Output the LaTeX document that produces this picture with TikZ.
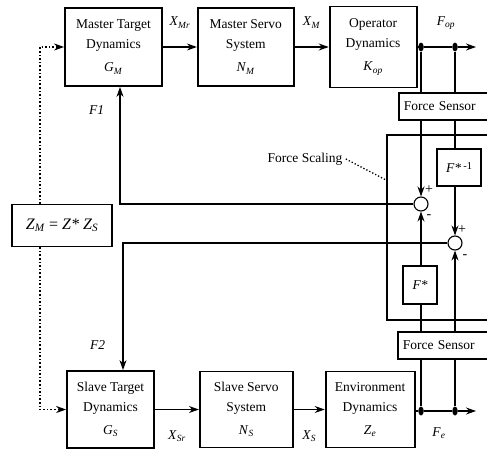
\documentclass[tikz,border=0pt]{standalone}
\usepackage{fontspec}
\setmainfont{Liberation Serif}
\usetikzlibrary{arrows.meta, positioning, shapes.geometric}

\newcommand{\vsub}[2]{\textit{#1}\textsubscript{\textit{#2}}}

\begin{document}
\begin{tikzpicture}[x=1pt, y=-1pt, >={Stealth[length=10pt, width=7pt]},
    font=\fontsize{13.5}{20}\selectfont,
    blk/.style={draw, line width=1.8pt, align=center, minimum height=78pt, inner sep=1pt},
    gain/.style={draw, line width=1.5pt, inner sep=1pt},
    sum/.style={draw, line width=1.1pt, circle, minimum size=14pt, inner sep=0pt, fill=white},
    jdot/.style={fill, ellipse, minimum width=5.5pt, minimum height=9pt, inner sep=0pt},
    sig/.style={line width=1.1pt},
    sgn/.style={inner sep=0pt, font=\fontsize{14}{14}\selectfont}]
    \useasboundingbox (0,0) rectangle (487,450);
    \clip (0,0) rectangle (487,450);

    % master side
    \node[blk, minimum width=97pt] (gm) at (113.5,47) {Master Target\\Dynamics\\[3pt]\vsub{G}{M}};
    \node[blk, minimum width=96pt, right=34pt of gm] (nm) {Master Servo\\System\\[3pt]\vsub{N}{M}};
    \node[blk, minimum width=87pt, minimum height=81pt, right=34pt of nm] (kop) {Operator\\Dynamics\\[3pt]\vsub{K}{op}};

    % slave side
    \node[blk, minimum width=87pt, minimum height=77pt] (gs) at (110.5,409.5) {Slave Target\\Dynamics\\[3pt]\vsub{G}{S}};
    \node[blk, minimum width=93pt, minimum height=76pt, right=44pt of gs] (ns) {Slave Servo\\System\\[3pt]\vsub{N}{S}};
    \node[blk, minimum width=89pt, minimum height=76pt, right=31pt of ns] (ze) {Environment\\Dynamics\\[3pt]\vsub{Z}{e}};

    % force scaling block
    \node[draw, line width=1.8pt, anchor=north west, minimum width=110pt, minimum height=185pt] (fsbox) at (386,134) {};
    \node (fslab) at (305,159) {Force Scaling};
    \draw[dotted, line width=1.3pt] (fslab.east) -- ([yshift=-46pt]fsbox.north west);

    \node[gain, anchor=west, text width=86pt, align=left, inner xsep=5pt, minimum height=27pt] (fsa) at (398,106.5) {Force Sensor};
    \node[gain, anchor=west, text width=86pt, align=left, inner xsep=5pt, minimum height=27pt] (fsb) at (397,345.5) {Force Sensor};
    \node[gain, minimum width=44pt, minimum height=37pt] (finv) at (459,167.5) {\textit{F*}\,\raisebox{2.5pt}{\fontsize{10.5}{10.5}\selectfont -1}};
    \node[gain, minimum width=34pt, minimum height=38pt] (fstar) at (420,285) {\textit{F*}};
    \node[sum] (s1) at (421,204) {};
    \node[sum] (s2) at (455,243) {};
    \node[sgn] at ([shift={(8,-14)}]s1) {+};
    \node[sgn] at ([shift={(8,13)}]s1) {-};
    \node[sgn] at ([shift={(7,-13)}]s2) {+};
    \node[sgn] at ([shift={(10,14)}]s2) {-};

    % pick-off points
    \node[jdot] (d1) at (421,47) {};
    \node[jdot] (d2) at (455,47) {};
    \coordinate (fopend) at (476,47);
    \node[jdot] (e1) at (421,411) {};
    \node[jdot] (e2) at (455,411) {};
    \coordinate (feend) at (476,411);

    % impedance relation
    \node[draw, line width=1.3pt, fill=white, minimum width=100pt, minimum height=42pt,
          font=\fontsize{16}{18}\selectfont] (zm) at (62,225.5) {\vsub{Z}{M} = \textit{Z*} \vsub{Z}{S}};

    % forward paths
    \draw[sig, ->] (gm) -- (nm) node[midway, above=15pt] {\vsub{X}{Mr}};
    \draw[sig, ->] (nm) -- (kop) node[midway, above=15pt] {\vsub{X}{M}};
    \draw[sig] (kop) -- (d1) -- (d2);
    \draw[sig, ->] (d2) -- (fopend);
    \node at (446,23) {\vsub{F}{op}};
    \draw[sig, ->] (gs) -- (ns) node[midway, below=17pt] {\vsub{X}{Sr}};
    \draw[sig, ->] (ns) -- (ze) node[midway, below=17pt] {\vsub{X}{S}};
    \draw[sig] (ze.east |- e1) -- (e1) -- (e2);
    \draw[sig, ->] (e2) -- (feend);
    \node at (439,433) {\vsub{F}{e}};

    % sensor paths
    \draw[sig] (d1) -- (d1 |- fsa.north);
    \draw[sig, ->] (d1 |- fsa.south) -- (s1);
    \draw[sig] (d2) -- (d2 |- fsa.north);
    \draw[sig] (d2 |- fsa.south) -- (d2 |- finv.north);
    \draw[sig, ->] (d2 |- finv.south) -- (s2);
    \draw[sig] (e1) -- (e1 |- fsb.south);
    \draw[sig] (e1 |- fsb.north) -- (e1 |- fstar.south);
    \draw[sig, ->] (e1 |- fstar.north) -- (s1);
    \draw[sig] (e2) -- (e2 |- fsb.south);
    \draw[sig, ->] (e2 |- fsb.north) -- (s2);

    % feedback to target dynamics
    \draw[sig, ->] (s1) -| ([xshift=6.5pt]gm.south) node[pos=0.9, left=12pt] {\textit{F1}};
    \draw[sig, ->] (s2) -| ([xshift=12.5pt]gs.north) node[pos=0.9, left=14pt] {\textit{F2}};

    % impedance scaling
    \draw[dotted, line width=1.6pt, ->] ([xshift=-22pt]zm.north) |- (gm.west);
    \draw[dotted, line width=1.6pt, ->] ([xshift=-22pt]zm.south) |- (gs.west);
\end{tikzpicture}
\end{document}
